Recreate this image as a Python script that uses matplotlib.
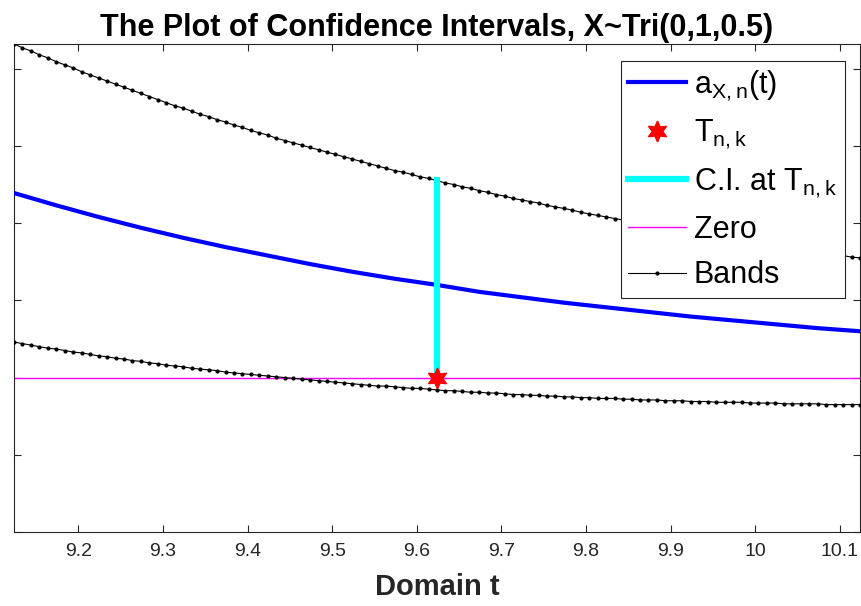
import numpy as np
from matplotlib import pyplot as plt

# window around the test point T_nk (t from T-0.5 to T+0.5)
t_start = 9.1238
t_end = 10.1238
t_point = 9.6238

# band values, one per 0.01 step in t (101 points)
upper_band = [
    0.432, 0.427, 0.423, 0.418, 0.414, 0.409, 0.405, 0.401, 0.396, 0.392,
    0.388, 0.384, 0.380, 0.376, 0.372, 0.368, 0.364, 0.360, 0.356, 0.352,
    0.349, 0.345, 0.341, 0.338, 0.334, 0.331, 0.327, 0.324, 0.320, 0.317,
    0.314, 0.310, 0.307, 0.304, 0.301, 0.298, 0.295, 0.292, 0.289, 0.286,
    0.283, 0.280, 0.277, 0.274, 0.271, 0.268, 0.266, 0.263, 0.260, 0.258,
    0.255, 0.252, 0.250, 0.247, 0.245, 0.242, 0.240, 0.237, 0.235, 0.232,
    0.230, 0.228, 0.226, 0.223, 0.221, 0.219, 0.217, 0.214, 0.212, 0.210,
    0.208, 0.206, 0.204, 0.202, 0.200, 0.198, 0.196, 0.194, 0.192, 0.190,
    0.188, 0.186, 0.185, 0.183, 0.181, 0.179, 0.177, 0.176, 0.174, 0.172,
    0.171, 0.169, 0.167, 0.166, 0.164, 0.162, 0.161, 0.159, 0.158, 0.156,
    0.155,
]
lower_band = [
    0.046, 0.044, 0.042, 0.040, 0.038, 0.037, 0.035, 0.033, 0.032, 0.030,
    0.028, 0.027, 0.025, 0.024, 0.022, 0.021, 0.019, 0.018, 0.016, 0.015,
    0.014, 0.012, 0.011, 0.010, 0.009, 0.007, 0.006, 0.005, 0.004, 0.003,
    0.002, 0.001, 0.000, -0.001, -0.002, -0.003, -0.004, -0.005, -0.006, -0.007,
    -0.008, -0.009, -0.010, -0.011, -0.011, -0.012, -0.013, -0.014, -0.014, -0.015,
    -0.016, -0.017, -0.017, -0.018, -0.019, -0.019, -0.020, -0.020, -0.021, -0.022,
    -0.022, -0.023, -0.023, -0.024, -0.024, -0.025, -0.025, -0.026, -0.026, -0.027,
    -0.027, -0.027, -0.028, -0.028, -0.029, -0.029, -0.029, -0.030, -0.030, -0.030,
    -0.031, -0.031, -0.031, -0.032, -0.032, -0.032, -0.032, -0.033, -0.033, -0.033,
    -0.033, -0.034, -0.034, -0.034, -0.034, -0.034, -0.035, -0.035, -0.035, -0.035,
    -0.035,
]
# estimator a_{X,n}(t), every 0.05 in t
a_values = [
    0.239, 0.223, 0.208, 0.194, 0.181, 0.169, 0.158, 0.147, 0.137, 0.128,
    0.120, 0.111, 0.104, 0.097, 0.091, 0.085, 0.079, 0.074, 0.069, 0.064,
    0.060,
]
ci_low = 0.0
ci_high = 0.256

x_ticks = [9.2, 9.3, 9.4, 9.5, 9.6, 9.7, 9.8, 9.9, 10.0, 10.1]
x_tick_labels = ["9.2", "9.3", "9.4", "9.5", "9.6", "9.7", "9.8", "9.9", "10", "10.1"]
y_ticks = [-0.2, -0.1, 0.0, 0.1, 0.2, 0.3, 0.4]

plt.rcParams['font.family'] = ['Liberation Sans', 'DejaVu Sans']
plt.rcParams['mathtext.default'] = 'regular'

t_band = np.linspace(t_start, t_end, len(upper_band))
t_a = np.linspace(t_start, t_end, len(a_values))

fig = plt.figure(figsize=(8.61, 6.06), dpi=100)
ax = fig.add_axes([0.0163, 0.1221, 0.9825, 0.8053])

ax.plot(t_a, a_values, color="#0000ff", lw=3, label=r"$a_{X,n}(t)$", zorder=3)
ax.plot([t_point], [ci_low], linestyle="none", marker=(6, 1, 0), markersize=15,
        color="red", label=r"$T_{n,k}$", zorder=5)
ax.plot([t_point, t_point], [ci_low, ci_high], color="cyan", lw=4.5,
        label=r"C.I. at $T_{n,k}$", zorder=4)
ax.axhline(0, color="magenta", lw=1, label="Zero", zorder=2)
ax.plot(t_band, upper_band, color="black", lw=0.8, marker=".", markersize=4,
        label="Bands", zorder=3)
ax.plot(t_band, lower_band, color="black", lw=0.8, marker=".", markersize=4, zorder=3)

ax.set_xlim(t_start, t_end)
ax.set_ylim(-0.2, 0.432)
ax.set_xticks(x_ticks)
ax.set_xticklabels(x_tick_labels)
ax.set_yticks(y_ticks)
ax.set_yticklabels([])
ax.tick_params(direction="in", top=True, right=True, length=5, width=0.8,
               colors="#262626", labelsize=14, pad=8)
for side in ax.spines.values():
    side.set_color("#262626")
    side.set_linewidth(0.8)

ax.set_title("The Plot of Confidence Intervals, X~Tri(0,1,0.5)",
             fontsize=22, fontweight="bold", pad=6)
ax.set_xlabel("Domain t", fontsize=21, fontweight="bold", color="#262626", labelpad=9)

leg = ax.legend(loc="upper right", bbox_to_anchor=(0.9823, 0.9658), borderaxespad=0,
                fontsize=22, fancybox=False, framealpha=1, edgecolor="#262626",
                handlelength=1.9, handletextpad=0.25, labelspacing=0.5,
                borderpad=0.25)
leg.get_frame().set_linewidth(0.8)

plt.savefig("out.png", dpi=100)
